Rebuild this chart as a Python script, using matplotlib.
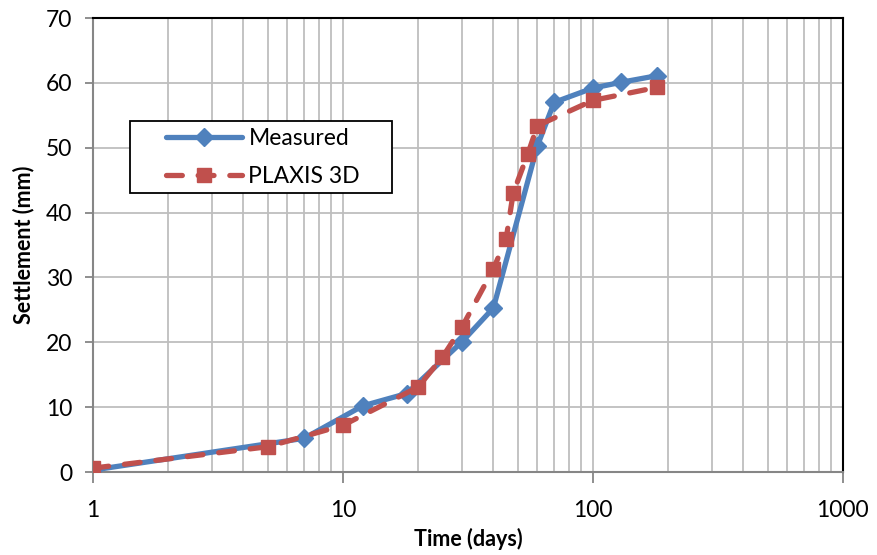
import matplotlib
matplotlib.use("Agg")
import matplotlib.pyplot as plt
from matplotlib.patches import Rectangle
from matplotlib.ticker import LogLocator, FixedLocator, FixedFormatter, NullFormatter

# settlement records
meas_t = [1, 7, 12, 18, 30, 40, 60, 70, 100, 130, 180]
meas_s = [0.3, 5.2, 10.2, 12.1, 20.1, 25.3, 50.3, 57.0, 59.2, 60.1, 61.1]

plaxis_t = [1, 5, 10, 20, 25, 30, 40, 45, 48, 55, 60, 100, 180]
plaxis_s = [0.6, 3.9, 7.2, 13.1, 17.7, 22.4, 31.3, 36.0, 43.0, 49.1, 53.4, 57.3, 59.3]

x_ticks = [1, 10, 100, 1000]
x_labels = ["1", "10", "100", "1000"]
y_ticks = [0, 10, 20, 30, 40, 50, 60, 70]

plt.rcParams['font.family'] = ['Lato', 'DejaVu Sans']

blue = "#4F81BD"
red = "#C0504D"
grid = "#BEBEBE"
axis_grey = "#868686"

fig = plt.figure(figsize=(8.77, 5.55), dpi=100)
ax = fig.add_axes([0.106, 0.1495, 0.855, 0.818])

ax.plot(meas_t, meas_s, color=blue, lw=3.8, marker="D", ms=9,
        label="Measured", zorder=3, solid_capstyle="round", solid_joinstyle="round")
ax.plot(plaxis_t, plaxis_s, color=red, lw=3.8, ls=(0, (3, 3)), marker="s", ms=10.5,
        label="PLAXIS 3D", zorder=4, dash_capstyle="round")

ax.set_xscale("log")
ax.set_xlim(1, 1000)
ax.set_ylim(0, 70)
ax.xaxis.set_major_locator(FixedLocator(x_ticks))
ax.xaxis.set_major_formatter(FixedFormatter(x_labels))
ax.xaxis.set_minor_locator(LogLocator(base=10, subs=range(2, 10)))
ax.xaxis.set_minor_formatter(NullFormatter())
ax.set_yticks(y_ticks)

ax.grid(True, which="both", axis="x", color=grid, lw=1.3)
ax.grid(True, which="major", axis="y", color=grid, lw=1.3)
ax.set_axisbelow(True)

ax.tick_params(axis="x", which="major", length=8, width=1.3, color=axis_grey,
               pad=12, labelsize=16.5)
ax.tick_params(axis="x", which="minor", length=0)
ax.tick_params(axis="y", length=6, width=1.3, color=axis_grey, pad=9, labelsize=16.5)

for s in ["left", "bottom"]:
    ax.spines[s].set_color(axis_grey)
    ax.spines[s].set_linewidth(1.5)
for s in ["top", "right"]:
    ax.spines[s].set_color("black")
    ax.spines[s].set_linewidth(1.5)

ax.set_xlabel("Time (days)", fontsize=15.5, fontweight="bold", labelpad=5)
ax.set_ylabel("Settlement (mm)", fontsize=15.5, fontweight="bold", labelpad=8)

# legend box drawn separately so the padding matches the Excel look
W, H = 877, 555
box = Rectangle((130 / W, 1 - 193 / H), 262 / W, 72 / H, transform=fig.transFigure,
                facecolor="white", edgecolor="black", lw=1.3, zorder=4.5, clip_on=False)
ax.add_patch(box)
leg = ax.legend(loc="center left", bbox_to_anchor=(166 / W, 1 - 157.5 / H),
                bbox_transform=fig.transFigure, fontsize=16.5, frameon=False,
                handlelength=3.3, borderpad=0, labelspacing=0.72,
                handletextpad=0.3, borderaxespad=0)
leg.set_zorder(5)

plt.savefig("out.png", dpi=100)
